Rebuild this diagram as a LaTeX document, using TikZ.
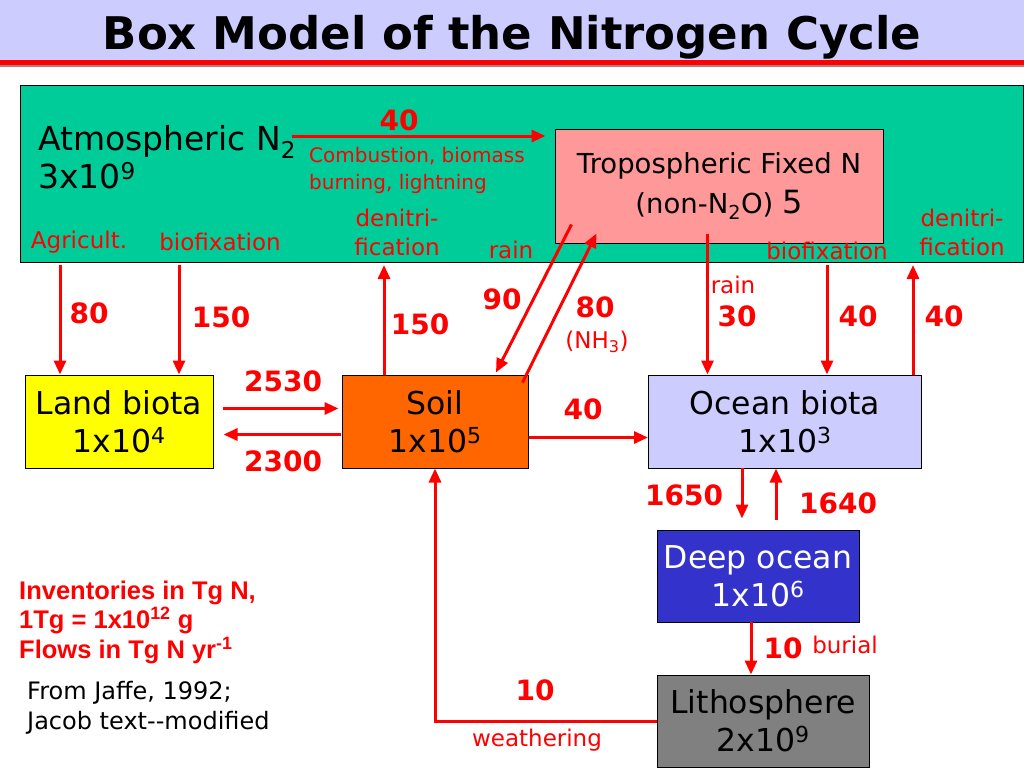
\documentclass[tikz,border=0pt]{standalone}
\usepackage{fontspec}
\setmainfont{DejaVu Sans}
\newfontfamily\notefont{Liberation Sans}
\usepackage{tikz}
\usetikzlibrary{arrows.meta,positioning,calc}
\definecolor{titleband}{RGB}{204,204,255}
\definecolor{titleshadow}{RGB}{175,125,125}
\definecolor{atmgreen}{RGB}{0,204,153}
\definecolor{tropred}{RGB}{255,153,153}
\definecolor{landyellow}{RGB}{255,255,0}
\definecolor{soilorange}{RGB}{255,102,0}
\definecolor{oceanlav}{RGB}{204,204,255}
\definecolor{deepblue}{RGB}{51,51,204}
\definecolor{lithogray}{RGB}{128,128,128}
\definecolor{flowred}{RGB}{255,0,0}
\tikzset{box/.style={draw=black,line width=1pt,inner sep=0pt,align=center,font=\fontsize{31.5}{38}\selectfont}}
\tikzset{flow/.style={-{Triangle[length=14pt,width=12pt]},draw=flowred,line width=3pt}}
\tikzset{num/.style={text=flowred,font=\bfseries\fontsize{28}{30}\selectfont,inner sep=0pt}}
\tikzset{lbl/.style={text=flowred,font=\fontsize{23}{29}\selectfont,inner sep=0pt,align=center}}

\begin{document}
\begin{tikzpicture}[x=1pt, y=-1pt]
\tikzstyle{every node}=[inner sep=0pt]
    \useasboundingbox (0,0) rectangle (1024,768);
    \fill[white] (0,0) rectangle (1024,768);
    \fill[titleband] (0,0) rectangle (1024,60);
    \fill[flowred] (0,60) rectangle (1024,65);
    \fill[titleshadow] (0,65) rectangle (1024,67);
    \node[font=\bfseries\fontsize{45}{50}\selectfont, anchor=base] (title) at (512,49) {Box Model of the Nitrogen Cycle};

    \node[box, fill=atmgreen, minimum width=1003pt, minimum height=177pt] (atm) at (521.5,173.5) {};
    \node[box, fill=tropred, minimum width=328pt, minimum height=114pt, font=\fontsize{27.5}{40}\selectfont] (trop) at (719,186) {Tropospheric Fixed N\\(non-N\textsubscript{2}O) {\fontsize{32}{32}\selectfont 5}};
    \node[box, fill=landyellow, minimum width=188pt, minimum height=93pt] (land) at (119,421.5) {Land biota\\1x10\textsuperscript{4}};
    \node[box, fill=soilorange, minimum width=186pt, minimum height=93pt] (soil) at (435,421.5) {Soil\\1x10\textsuperscript{5}};
    \node[box, fill=oceanlav, minimum width=273pt, minimum height=93pt] (ocean) at (785,421.5) {Ocean biota\\1x10\textsuperscript{3}};
    \node[box, fill=deepblue, text=white, minimum width=202pt, minimum height=92pt] (deep) at (758,576) {Deep ocean\\1x10\textsuperscript{6}};
    \node[box, fill=lithogray, minimum width=212pt, minimum height=92pt] (litho) at (763,721) {Lithosphere\\2x10\textsuperscript{9}};

    \node[anchor=west, align=left, font=\fontsize{33}{38}\selectfont] (atmtext) at (38,157) {Atmospheric N\textsubscript{2}\\3x10\textsuperscript{9}};

    \coordinate (c40) at (292,136);
    \coordinate (agri) at (60,265);
    \coordinate (bfland) at (179,265);
    \coordinate (dnland) at (384,265);
    \coordinate (bfsea) at (827,265);
    \coordinate (dnsea) at (913,265);
    \coordinate (t90) at ($(trop.south west)+(17,-19)$);
    \coordinate (s90) at ($(soil.north)+(61,-2)$);
    \coordinate (s80) at ($(soil.north east)+(-6,8)$);
    \coordinate (t80) at ($(trop.south west)+(42,-10)$);
    \coordinate (rain30) at ($(trop.south west)+(153,-10)$);
    \coordinate (down1650) at (742,468);
    \coordinate (up1640) at (776,520);
    \coordinate (burial) at (751,622);

    \draw[flow, shorten >=9pt] (c40) -- (c40 -| trop.west);
    \draw[flow] (agri) -- (agri |- land.north);
    \draw[flow] (bfland) -- (bfland |- land.north);
    \draw[flow] (dnland |- soil.north) -- (dnland);
    \draw[flow] (t90) -- (s90);
    \draw[flow] (s80) -- (t80);
    \draw[flow] (rain30) -- (rain30 |- ocean.north);
    \draw[flow] (bfsea) -- (bfsea |- ocean.north);
    \draw[flow] (dnsea |- ocean.north) -- (dnsea);
    \draw[flow] ($(land.east)+(9,-13)$) -- ($(soil.west)+(-3,-13)$);
    \draw[flow] ($(soil.west)+(-1,13)$) -- ($(land.east)+(10,13)$);
    \draw[flow] ($(soil.east)+(0,16)$) -- ($(ocean.west)+(0,16)$);
    \draw[flow, shorten >=11pt] (down1650) -- (down1650 |- deep.north);
    \draw[flow] (up1640) -- (up1640 |- ocean.south);
    \draw[flow] (burial) -- (burial |- litho.north);
    \draw[flow] (litho.west) -| (soil.south);

    \node[num] (n40c) at (399,120) {40};
    \node[lbl, anchor=west, align=left, font=\fontsize{20}{27}\selectfont] (comb) at (309,170) {Combustion, biomass\\burning, lightning};
    \node[lbl] (dnl) at (397,232) {denitri-\\fication};
    \node[lbl] (agrl) at (79,242) {Agricult.};
    \node[lbl] (bfl) at (220,242) {biofixation};
    \node[lbl] (rainl) at (511,250) {rain};
    \node[lbl] (bfs) at (827,251) {biofixation};
    \node[lbl] (dns) at (962,232) {denitri-\\fication};

    \node[num] (n80a) at (89,313) {80};
    \node[num] (n150a) at (221,317) {150};
    \node[num] (n150b) at (420,324) {150};
    \node[num] (n90) at (502,299) {90};
    \node[num] (n80b) at (595,307) {80};
    \node[lbl] (nh3) at (597,342) {(NH\textsubscript{3})};
    \node[lbl] (rains) at (733,285) {rain};
    \node[num] (n30) at (737,316) {30};
    \node[num] (n40b) at (858,316) {40};
    \node[num] (n40d) at (944,316) {40};
    \node[num] (n2530) at (283,381) {2530};
    \node[num] (n2300) at (283,461) {2300};
    \node[num] (n40s) at (583,409) {40};
    \node[num] (n1650) at (684,495) {1650};
    \node[num] (n1640) at (838,503) {1640};
    \node[num] (n10b) at (783,648) {10};
    \node[lbl] (burl) at (845,645) {burial};
    \node[num] (n10w) at (535,690) {10};
    \node[lbl] (weath) at (537,740) {weathering};

    \node[anchor=west, align=left, text=flowred, font=\notefont\bfseries\fontsize{25.5}{29.5}\selectfont] (units) at (19,622) {Inventories in Tg N,\\1Tg = 1x10\textsuperscript{12} g\\Flows in Tg N yr\textsuperscript{-1}};
    \node[anchor=west, align=left, font=\fontsize{24}{30}\selectfont] (source) at (27,708) {From Jaffe, 1992;\\Jacob text{-}{-}modified};
\end{tikzpicture}
\end{document}
